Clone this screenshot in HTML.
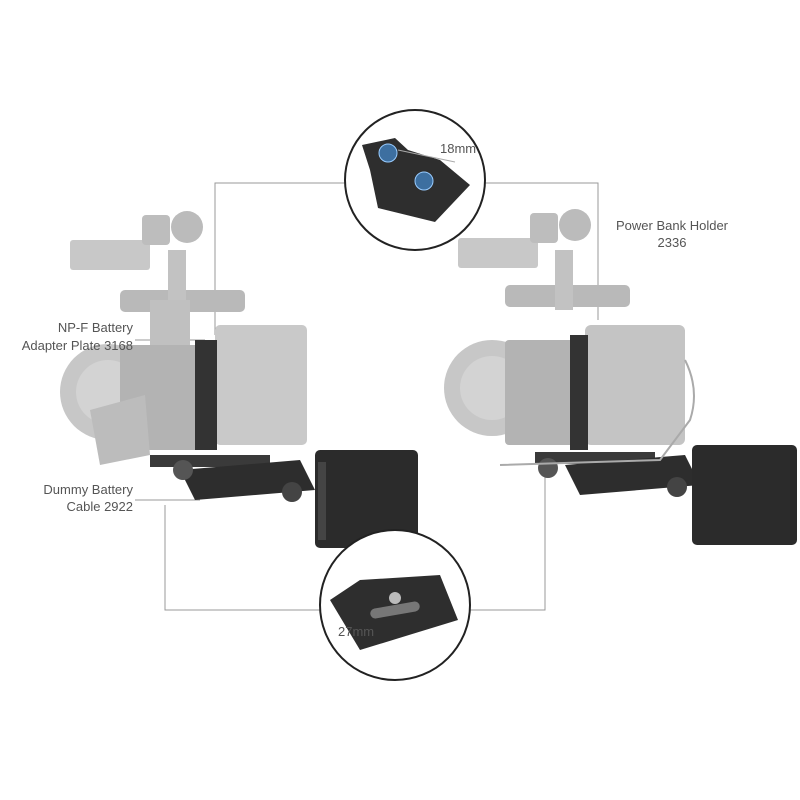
<!DOCTYPE html>
<html><head><meta charset="utf-8"><style>
body{margin:0;background:#fff;}
svg{display:block}
text{font-family:"Liberation Sans",sans-serif;fill:#555;font-size:13px}
</style></head><body>
<svg width="800" height="800" viewBox="0 0 800 800">
<g stroke="#999" stroke-width="1" fill="none">
<polyline points="345,183 215,183 215,335"/>
<polyline points="485,183 598,183 598,320"/>
<polyline points="165,505 165,610 320,610"/>
<polyline points="470,610 545,610 545,455"/>
<line x1="135" y1="340" x2="205" y2="340"/>
<line x1="135" y1="500" x2="200" y2="500"/>
</g>
<g>
<rect x="70" y="240" width="80" height="30" rx="3" fill="#c8c8c8"/>
<rect x="142" y="215" width="28" height="30" rx="4" fill="#bdbdbd"/>
<circle cx="187" cy="227" r="16" fill="#bbb"/>
<rect x="120" y="290" width="125" height="22" rx="5" fill="#b9b9b9"/>
<rect x="168" y="250" width="18" height="60" fill="#c2c2c2"/>
<rect x="150" y="300" width="40" height="60" fill="#c0c0c0"/>
<circle cx="108" cy="392" r="48" fill="#c7c7c7"/>
<circle cx="108" cy="392" r="32" fill="#d3d3d3"/>
<rect x="120" y="345" width="80" height="105" rx="4" fill="#b3b3b3"/>
<polygon points="90,410 145,395 150,455 100,465" fill="#bcbcbc"/>
<rect x="215" y="325" width="92" height="120" rx="5" fill="#c9c9c9"/>
<rect x="195" y="340" width="22" height="110" fill="#333"/>
<rect x="150" y="455" width="120" height="12" fill="#3a3a3a"/>
<polygon points="180,470 300,460 315,490 195,500" fill="#2d2d2d"/>
<circle cx="183" cy="470" r="10" fill="#555"/>
<circle cx="292" cy="492" r="10" fill="#444"/>
<rect x="315" y="450" width="103" height="98" rx="5" fill="#2b2b2b"/>
<rect x="318" y="462" width="8" height="78" fill="#444"/>
</g>
<g>
<rect x="458" y="238" width="80" height="30" rx="3" fill="#c8c8c8"/>
<rect x="530" y="213" width="28" height="30" rx="4" fill="#bdbdbd"/>
<circle cx="575" cy="225" r="16" fill="#bbb"/>
<rect x="505" y="285" width="125" height="22" rx="5" fill="#b9b9b9"/>
<rect x="555" y="250" width="18" height="60" fill="#c2c2c2"/>
<circle cx="492" cy="388" r="48" fill="#c7c7c7"/>
<circle cx="492" cy="388" r="32" fill="#d3d3d3"/>
<rect x="505" y="340" width="80" height="105" rx="4" fill="#b3b3b3"/>
<rect x="585" y="325" width="100" height="120" rx="6" fill="#c4c4c4"/>
<rect x="570" y="335" width="18" height="115" fill="#333"/>
<rect x="535" y="452" width="120" height="12" fill="#3a3a3a"/>
<polygon points="565,465 685,455 700,485 580,495" fill="#2d2d2d"/>
<circle cx="548" cy="468" r="10" fill="#555"/>
<circle cx="677" cy="487" r="10" fill="#444"/>
<rect x="692" y="445" width="105" height="100" rx="5" fill="#2b2b2b"/>
<path d="M685,360 Q700,390 690,420 L660,460 L500,465" stroke="#aaa" stroke-width="2" fill="none"/>
</g>
<circle cx="415" cy="180" r="70" fill="#fff" stroke="#222" stroke-width="2"/>
<polygon points="362,145 395,138 408,150 440,160 470,185 435,222 378,208 370,170" fill="#2e2e2e"/>
<circle cx="388" cy="153" r="9" fill="#3d6fa0" stroke="#9cf"/>
<circle cx="424" cy="181" r="9" fill="#3d6fa0" stroke="#9cf"/>
<line x1="398" y1="150" x2="455" y2="162" stroke="#aaa"/>
<text x="440" y="153" font-size="10">18mm</text>
<circle cx="395" cy="605" r="75" fill="#fff" stroke="#222" stroke-width="2"/>
<polygon points="330,600 360,580 440,575 458,620 360,650" fill="#2e2e2e"/>
<rect x="370" y="605" width="50" height="10" rx="5" fill="#777" transform="rotate(-10 395 610)"/>
<circle cx="395" cy="598" r="6" fill="#bbb"/>
<text x="338" y="636" font-size="10">27mm</text>
<text x="133" y="332" text-anchor="end">NP-F Battery</text>
<text x="133" y="350" text-anchor="end">Adapter Plate 3168</text>
<text x="133" y="494" text-anchor="end">Dummy Battery</text>
<text x="133" y="511" text-anchor="end">Cable 2922</text>
<text x="672" y="230" text-anchor="middle">Power Bank Holder</text>
<text x="672" y="247" text-anchor="middle">2336</text>
</svg>
</body></html>
